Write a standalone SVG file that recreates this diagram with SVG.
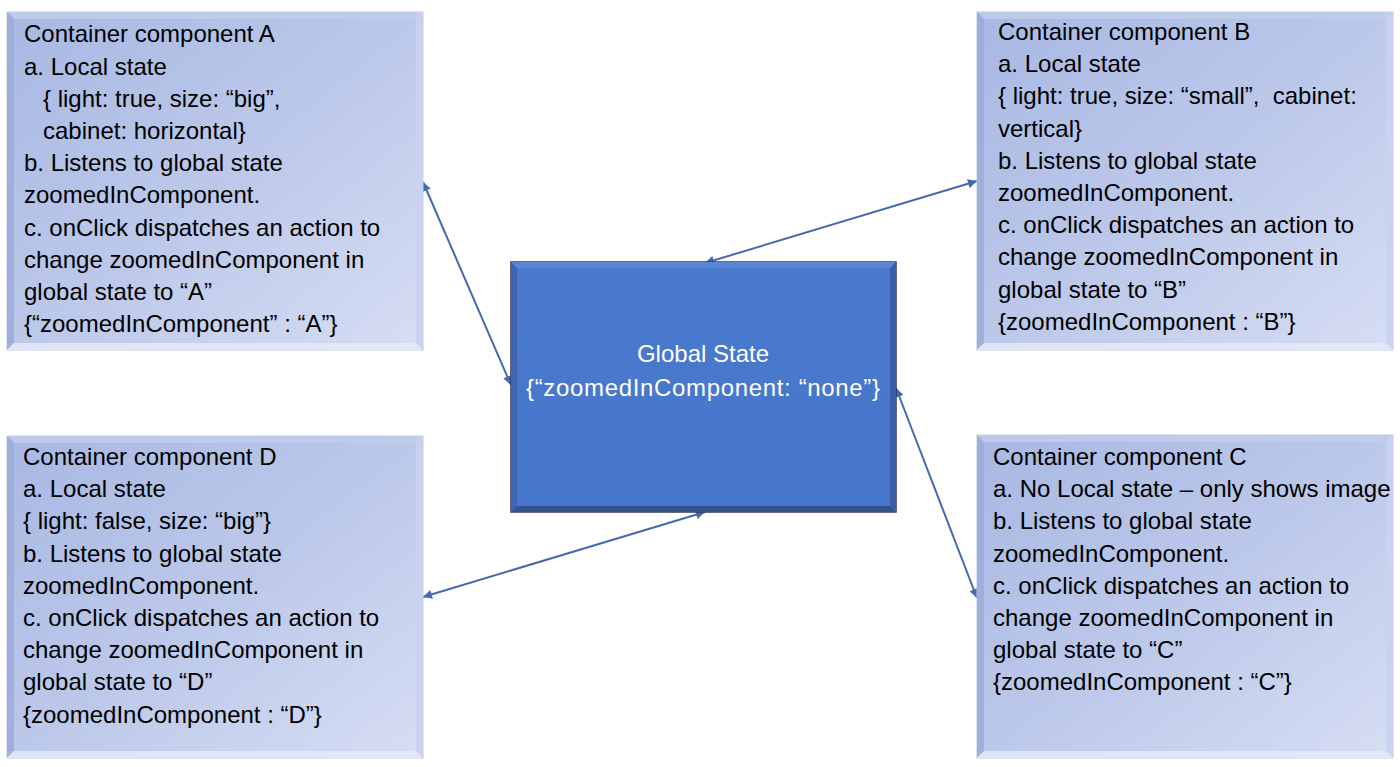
<svg xmlns="http://www.w3.org/2000/svg" width="1400" height="767" viewBox="0 0 1400 767">
<defs>
<linearGradient id="lb" x1="0" y1="0" x2="1" y2="1">
<stop offset="0" stop-color="#a8b8e3"/>
<stop offset="0.5" stop-color="#bcc8ea"/>
<stop offset="1" stop-color="#d6def3"/>
</linearGradient>
<linearGradient id="gb" x1="0" y1="0" x2="0" y2="1">
<stop offset="0" stop-color="#4a79cd"/>
<stop offset="1" stop-color="#4676cb"/>
</linearGradient>
<marker id="ah" viewBox="0 0 10 10" refX="10" refY="5" markerWidth="11" markerHeight="9" markerUnits="userSpaceOnUse" orient="auto-start-reverse">
<path d="M0,0 L10,5 L0,10 z" fill="#4469b0"/>
</marker>
<style>
.body{fill:url(#lb);stroke:#c3cbe3;stroke-width:1}
.bt{fill:#c2cdec;opacity:0.8}
.bl{fill:#9babd8;opacity:0.85}
.br{fill:#c9d3ef;opacity:0.9}
.bb{fill:#e2e8f6;opacity:0.9}
.txt{font-family:"Liberation Sans",Arial,sans-serif;font-size:24px;fill:#000;white-space:pre}
.gtxt{font-family:"Liberation Sans",Arial,sans-serif;font-size:24px;fill:#fff;text-anchor:middle}
.conn{stroke:#4469b0;stroke-width:2;fill:none;marker-start:url(#ah);marker-end:url(#ah)}
</style>
</defs>
<rect width="1400" height="767" fill="#fff"/>

<g id="connectors">
<line class="conn" x1="423" y1="182" x2="511" y2="385"/>
<line class="conn" x1="977" y1="181" x2="705" y2="263"/>
<line class="conn" x1="896" y1="388" x2="977" y2="598"/>
<line class="conn" x1="423" y1="597" x2="705" y2="512"/>
</g>

<g id="nodeA" transform="translate(7,12)">
<rect class="body" x="0" y="0" width="416" height="338"/>
<polygon class="bt" points="0,0 416,0 409,7 7,7"/>
<polygon class="bl" points="0,0 7,7 7,331 0,338"/>
<polygon class="br" points="416,0 416,338 409,331 409,7"/>
<polygon class="bb" points="0,338 7,331 409,331 416,338"/>
<text class="txt" x="17" y="30">Container component A</text>
<text class="txt" x="17" y="62.5">a. Local state</text>
<text class="txt" x="36" y="94.7">{ light: true, size: “big”,</text>
<text class="txt" x="36" y="127">cabinet: horizontal}</text>
<text class="txt" x="17" y="159">b. Listens to global state</text>
<text class="txt" x="17" y="191">zoomedInComponent.</text>
<text class="txt" x="17" y="223.5">c. onClick dispatches an action to</text>
<text class="txt" x="17" y="255.7">change zoomedInComponent in</text>
<text class="txt" x="17" y="288">global state to “A”</text>
<text class="txt" x="17" y="320">{“zoomedInComponent” : “A”}</text>
</g>

<g id="nodeB" transform="translate(977,12)">
<rect class="body" x="0" y="0" width="416" height="338"/>
<polygon class="bt" points="0,0 416,0 409,7 7,7"/>
<polygon class="bl" points="0,0 7,7 7,331 0,338"/>
<polygon class="br" points="416,0 416,338 409,331 409,7"/>
<polygon class="bb" points="0,338 7,331 409,331 416,338"/>
<text class="txt" x="21" y="28">Container component B</text>
<text class="txt" x="21" y="60.2">a. Local state</text>
<text class="txt" x="21" y="92.4" xml:space="preserve">{ light: true, size: “small”,  cabinet:</text>
<text class="txt" x="21" y="124.6">vertical}</text>
<text class="txt" x="21" y="156.8">b. Listens to global state</text>
<text class="txt" x="21" y="189">zoomedInComponent.</text>
<text class="txt" x="21" y="221.2">c. onClick dispatches an action to</text>
<text class="txt" x="21" y="253.4">change zoomedInComponent in</text>
<text class="txt" x="21" y="285.6">global state to “B”</text>
<text class="txt" x="21" y="317.8">{zoomedInComponent : “B”}</text>
</g>

<g id="nodeC" transform="translate(977,435)">
<rect class="body" x="0" y="0" width="416" height="323"/>
<polygon class="bt" points="0,0 416,0 409,7 7,7"/>
<polygon class="bl" points="0,0 7,7 7,316 0,323"/>
<polygon class="br" points="416,0 416,323 409,316 409,7"/>
<polygon class="bb" points="0,323 7,316 409,316 416,323"/>
<text class="txt" x="16" y="30">Container component C</text>
<text class="txt" x="16" y="62.2">a. No Local state – only shows image</text>
<text class="txt" x="16" y="94.4">b. Listens to global state</text>
<text class="txt" x="16" y="126.6">zoomedInComponent.</text>
<text class="txt" x="16" y="158.8">c. onClick dispatches an action to</text>
<text class="txt" x="16" y="191">change zoomedInComponent in</text>
<text class="txt" x="16" y="223.2">global state to “C”</text>
<text class="txt" x="16" y="255.4">{zoomedInComponent : “C”}</text>
</g>

<g id="nodeD" transform="translate(7,436)">
<rect class="body" x="0" y="0" width="416" height="322"/>
<polygon class="bt" points="0,0 416,0 409,7 7,7"/>
<polygon class="bl" points="0,0 7,7 7,315 0,322"/>
<polygon class="br" points="416,0 416,322 409,315 409,7"/>
<polygon class="bb" points="0,322 7,315 409,315 416,322"/>
<text class="txt" x="16" y="29">Container component D</text>
<text class="txt" x="16" y="61.2">a. Local state</text>
<text class="txt" x="16" y="93.4">{ light: false, size: “big”}</text>
<text class="txt" x="16" y="125.6">b. Listens to global state</text>
<text class="txt" x="16" y="157.8">zoomedInComponent.</text>
<text class="txt" x="16" y="190">c. onClick dispatches an action to</text>
<text class="txt" x="16" y="222.2">change zoomedInComponent in</text>
<text class="txt" x="16" y="254.4">global state to “D”</text>
<text class="txt" x="16" y="286.6">{zoomedInComponent : “D”}</text>
</g>

<g id="globalState" transform="translate(511,262)">
<rect x="0" y="0" width="385" height="250" fill="url(#gb)" stroke="#2c3a5c" stroke-width="1.5"/>
<polygon points="0,0 385,0 379,6 6,6" fill="#5a86d4"/>
<polygon points="0,0 6,6 6,244 0,250" fill="#3e66b0"/>
<polygon points="385,0 385,250 379,244 379,6" fill="#3a5fa6"/>
<polygon points="0,250 6,244 379,244 385,250" fill="#34528c"/>
<text class="gtxt" x="192" y="100">Global State</text>
<text class="gtxt" x="192" y="134" textLength="354" lengthAdjust="spacing">{“zoomedInComponent: “none”}</text>
</g>
</svg>
